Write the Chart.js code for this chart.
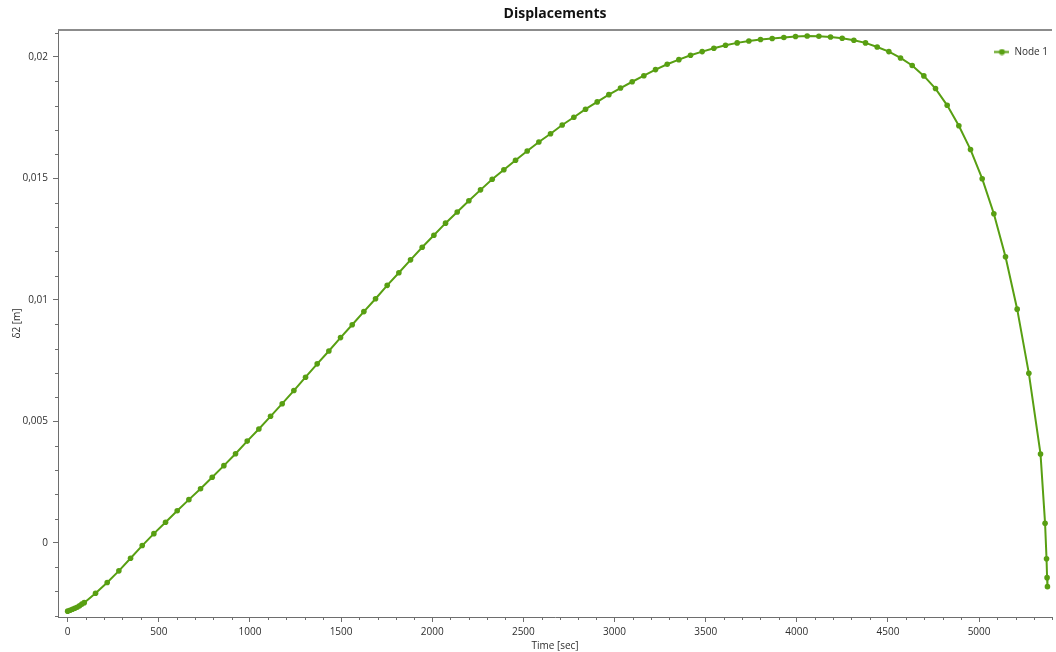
<!DOCTYPE html>
<html>
<head>
<meta charset="utf-8">
<title>Displacements</title>
<script src="https://cdn.jsdelivr.net/npm/chart.js@4"></script>
<style>
  html, body { margin: 0; padding: 0; background: #fff; }
  #wrap { width: 1056px; height: 652px; }
</style>
</head>
<body>
<div id="wrap"><canvas id="disp-chart"></canvas></div>
<script>
// time steps [sec]
const timeSec = [
    0, 13, 26, 39, 52, 65, 78, 91,
    153, 217, 281, 345, 409, 473, 537, 601, 665, 729,
    793, 857, 921, 985, 1049, 1113, 1177, 1241, 1305, 1369,
    1433, 1497, 1561, 1625, 1689, 1753, 1817, 1881, 1945, 2009,
    2073, 2137, 2201, 2265, 2329, 2393, 2457, 2521, 2585, 2649,
    2713, 2777, 2841, 2905, 2969, 3033, 3097, 3161, 3225, 3289,
    3353, 3417, 3481, 3545, 3609, 3673, 3737, 3801, 3865, 3929,
    3993, 4057, 4121, 4185, 4249, 4313, 4377, 4441, 4505, 4569,
    4633, 4697, 4761, 4825, 4889, 4953, 5017, 5081, 5145, 5209,
    5273, 5337, 5362, 5370, 5373, 5375
];

// Node 1 vertical displacement δ2 [m]
const node1Dz = [
    -0.00281, -0.00277, -0.00273, -0.00269, -0.00265, -0.00259, -0.00252, -0.00246,
    -0.00207, -0.00163, -0.00115, -0.00063, -0.00011, 0.00038, 0.00085, 0.00132, 0.00178, 0.00223,
    0.00270, 0.00318, 0.00367, 0.00419, 0.00469, 0.00521, 0.00573, 0.00627, 0.00682, 0.00737,
    0.00790, 0.00845, 0.00898, 0.00952, 0.01005, 0.01060, 0.01112, 0.01165, 0.01217, 0.01266,
    0.01316, 0.01362, 0.01408, 0.01453, 0.01497, 0.01536, 0.01575, 0.01613, 0.01650, 0.01684,
    0.01720, 0.01752, 0.01785, 0.01815, 0.01845, 0.01872, 0.01898, 0.01923, 0.01948, 0.01970,
    0.01989, 0.02007, 0.02022, 0.02036, 0.02048, 0.02058, 0.02066, 0.02072, 0.02076, 0.02080,
    0.02084, 0.02086, 0.02085, 0.02082, 0.02077, 0.02069, 0.02058, 0.02041, 0.02022, 0.01996,
    0.01965, 0.01922, 0.01870, 0.01801, 0.01717, 0.01619, 0.01499, 0.01355, 0.01178, 0.00962,
    0.00698, 0.00366, 0.00081, -0.00065, -0.00143, -0.00180
];

// labelled ticks
const xTickValues = [0, 500, 1000, 1500, 2000, 2500, 3000, 3500, 4000, 4500, 5000];
const xTickLabels = ['0', '500', '1000', '1500', '2000', '2500', '3000', '3500', '4000', '4500', '5000'];
const yTickValues = [0, 0.005, 0.01, 0.015, 0.02];
const yTickLabels = ['0', '0,005', '0,01', '0,015', '0,02'];

const green = '#589f12';
const axisColor = '#6e6e6e';
const textColor = '#2e2e2e';
Chart.defaults.font.family = "'Open Sans', sans-serif";

// legend marker: line with a dot
const legendMark = document.createElement('canvas');
legendMark.width = 15;
legendMark.height = 7;
const mctx = legendMark.getContext('2d');
mctx.strokeStyle = green;
mctx.lineWidth = 2;
mctx.beginPath(); mctx.moveTo(0, 3.5); mctx.lineTo(15, 3.5); mctx.stroke();
mctx.fillStyle = green;
mctx.beginPath(); mctx.arc(7.5, 3.5, 3, 0, Math.PI * 2); mctx.fill();

const onStep = (v, step) => Math.abs(v / step - Math.round(v / step)) < 1e-6;

function labelFor(values, labels, v) {
    const i = values.findIndex(t => Math.abs(t - v) < 1e-9);
    return i >= 0 ? labels[i] : '';
}

const isMajorX = v => labelFor(xTickValues, xTickLabels, v) !== '';
const isMajorY = v => labelFor(yTickValues, yTickLabels, v) !== '';

const framePlugin = {
    id: 'frame',
    afterLayout(chart) {
        const ca = chart.chartArea;
        // title centred over the plot, legend inside the top right corner
        const t = chart.titleBlock;
        if (t) { t.left = ca.left; t.right = ca.right; t.width = ca.right - ca.left; }
        const lg = chart.legend;
        if (lg) {
            const w = lg.width;
            lg.right = ca.right + 6;
            lg.left = lg.right - w;
            lg.top = ca.top + 9;
            lg.bottom = lg.top + lg.height;
        }
    },
    afterDraw(chart) {
        const { ctx, chartArea: ca, scales } = chart;
        ctx.save();
        ctx.strokeStyle = '#8c8c8c';
        ctx.lineWidth = 2;
        ctx.beginPath();
        ctx.moveTo(ca.left, ca.top);
        ctx.lineTo(ca.right, ca.top);
        ctx.stroke();

        // short minor ticks
        ctx.strokeStyle = axisColor;
        ctx.lineWidth = 1;
        ctx.beginPath();
        scales.x.ticks.forEach(tk => {
            if (isMajorX(tk.value)) return;
            const px = Math.round(scales.x.getPixelForValue(tk.value)) + 0.5;
            ctx.moveTo(px, ca.bottom);
            ctx.lineTo(px, ca.bottom + 3);
        });
        scales.y.ticks.forEach(tk => {
            if (isMajorY(tk.value)) return;
            const py = Math.round(scales.y.getPixelForValue(tk.value)) + 0.5;
            ctx.moveTo(ca.left, py);
            ctx.lineTo(ca.left - 3, py);
        });
        ctx.stroke();
        ctx.restore();
    }
};

const points = timeSec.map((t, i) => ({ x: t, y: node1Dz[i] }));

new Chart(document.getElementById('disp-chart'), {
    type: 'line',
    data: {
        datasets: [{
            label: 'Node 1',
            data: points,
            borderColor: green,
            backgroundColor: green,
            borderWidth: 2,
            pointRadius: 2.8,
            pointBorderWidth: 0,
            pointBackgroundColor: green,
            tension: 0,
            fill: false
        }]
    },
    options: {
        responsive: true,
        maintainAspectRatio: false,
        animation: false,
        layout: { padding: { left: 0, right: 1, top: 0, bottom: 0 } },
        plugins: {
            title: {
                display: true,
                text: 'Displacements',
                color: '#111',
                font: { size: 14, weight: 'bold' },
                padding: { top: 6, bottom: 7.2 }
            },
            legend: {
                position: 'chartArea',
                align: 'start',
                labels: {
                    usePointStyle: true,
                    pointStyle: legendMark,
                    pointStyleWidth: 15,
                    padding: 8,
                    color: textColor,
                    font: { size: 10 }
                }
            },
            tooltip: { enabled: false }
        },
        scales: {
            x: {
                type: 'linear',
                min: -53,
                max: 5400,
                afterFit: s => { s.height = 35; },
                afterBuildTicks: s => { s.ticks = s.ticks.filter(t => onStep(t.value, 100)); },
                grid: {
                    drawOnChartArea: false,
                    tickLength: 5,
                    tickColor: c => (c.tick && isMajorX(c.tick.value)) ? axisColor : 'rgba(0,0,0,0)'
                },
                border: { display: true, color: axisColor, width: 1 },
                ticks: {
                    stepSize: 100,
                    includeBounds: false,
                    autoSkip: false,
                    maxRotation: 0,
                    padding: 4,
                    color: textColor,
                    font: { size: 10 },
                    callback: v => labelFor(xTickValues, xTickLabels, v)
                },
                title: {
                    display: true,
                    text: 'Time [sec]',
                    color: textColor,
                    font: { size: 10 },
                    padding: { top: 0, bottom: 0 }
                }
            },
            y: {
                type: 'linear',
                min: -0.00305,
                max: 0.02111,
                afterFit: s => { s.width = 58; },
                afterBuildTicks: s => { s.ticks = s.ticks.filter(t => onStep(t.value, 0.001)); },
                grid: {
                    drawOnChartArea: false,
                    tickLength: 5,
                    tickColor: c => (c.tick && isMajorY(c.tick.value)) ? axisColor : 'rgba(0,0,0,0)'
                },
                border: { display: true, color: axisColor, width: 1 },
                ticks: {
                    stepSize: 0.001,
                    includeBounds: false,
                    autoSkip: false,
                    padding: 5,
                    color: textColor,
                    font: { size: 10 },
                    callback: v => labelFor(yTickValues, yTickLabels, v)
                },
                title: {
                    display: true,
                    text: 'δ2 [m]',
                    color: textColor,
                    font: { size: 10 },
                    padding: { top: 11, bottom: 0 }
                }
            }
        }
    },
    plugins: [framePlugin]
});
</script>
</body>
</html>
